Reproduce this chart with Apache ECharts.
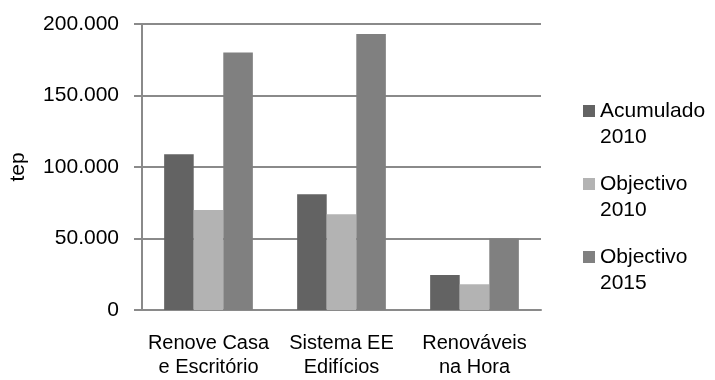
<!DOCTYPE html>
<html>
<head>
<meta charset="utf-8">
<script src="https://cdn.jsdelivr.net/npm/echarts@6/dist/echarts.min.js"></script>
<style>
  html, body { margin: 0; padding: 0; background: #ffffff; }
  #chart { width: 715px; height: 380px; }
</style>
</head>
<body>
<div id="chart"></div>
<script>
// Programme categories (x axis)
const categories = ['Renove Casa\ne Escritório', 'Sistema EE\nEdifícios', 'Renováveis\nna Hora'];

// Series names and values (tep)
const seriesNames = ['Acumulado\n2010', 'Objectivo\n2010', 'Objectivo\n2015'];
const acumulado2010 = [109000, 81000, 24500];
const objectivo2010 = [70000, 67000, 18000];
const objectivo2015 = [180000, 193000, 50000];

// Y axis scale
const yMin = 0;
const yMax = 200000;
const yStep = 50000;

const colors = ['#636363', '#b3b3b3', '#808080'];
const font = 'Liberation Sans, Arial, sans-serif';
const gridColor = '#8a8a8a';

function fmt(v) {
  return String(v).replace(/\B(?=(\d{3})+(?!\d))/g, '.');
}

const chart = echarts.init(document.getElementById('chart'), null, { renderer: 'canvas' });

const valueSets = [acumulado2010, objectivo2010, objectivo2015];

chart.setOption({
  animation: false,
  backgroundColor: '#ffffff',
  color: colors,
  grid: { left: 141, top: 24, width: 400, height: 286, containLabel: false },
  legend: {
    orient: 'vertical',
    left: 583,
    top: 72,
    padding: 0,
    itemWidth: 12,
    itemHeight: 12,
    itemGap: -5,
    icon: 'rect',
    data: seriesNames,
    // leading blank line keeps the swatch level with the first text line
    formatter: name => '\n' + name,
    textStyle: {
      fontFamily: font,
      fontSize: 21,
      color: '#000000',
      lineHeight: 26
    }
  },
  xAxis: {
    type: 'category',
    data: categories,
    axisLine: { show: true, lineStyle: { color: gridColor, width: 2 } },
    axisTick: { show: false },
    axisLabel: {
      fontFamily: font,
      fontSize: 20,
      color: '#000000',
      lineHeight: 24,
      margin: 21,
      interval: 0
    }
  },
  yAxis: {
    type: 'value',
    min: yMin,
    max: yMax,
    interval: yStep,
    name: 'tep',
    nameLocation: 'middle',
    nameGap: 113,
    nameTextStyle: { fontFamily: font, fontSize: 21, color: '#000000' },
    axisLine: { show: true, lineStyle: { color: gridColor, width: 2 } },
    axisTick: { show: true, length: 8, lineStyle: { color: gridColor, width: 2 } },
    splitLine: { show: true, lineStyle: { color: gridColor, width: 2 } },
    axisLabel: {
      fontFamily: font,
      fontSize: 21,
      color: '#000000',
      margin: 23,
      formatter: fmt
    }
  },
  series: seriesNames.map((name, i) => ({
    name: name,
    type: 'bar',
    data: valueSets[i],
    barGap: '0%',
    barCategoryGap: '33.3%',
    itemStyle: { color: colors[i] }
  }))
});
</script>
</body>
</html>
